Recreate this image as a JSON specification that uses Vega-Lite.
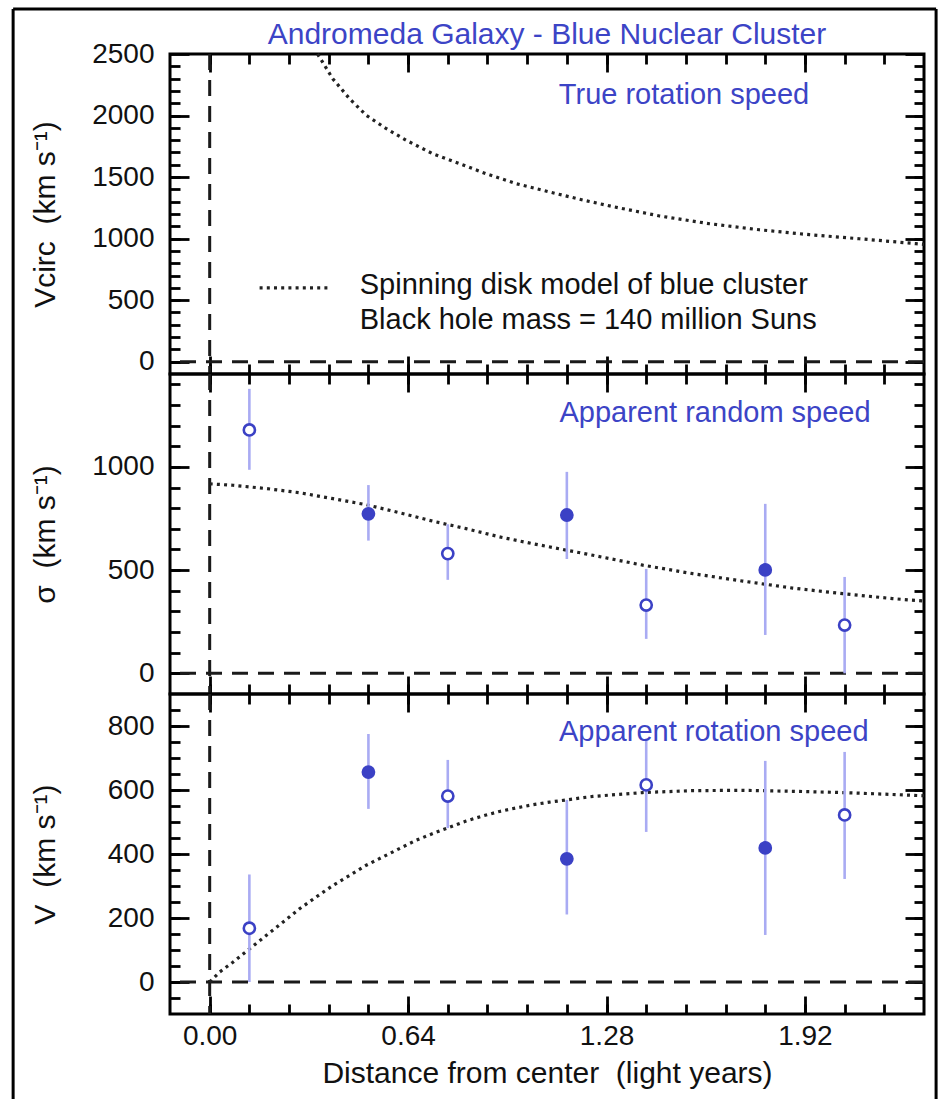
{
  "$schema": "https://vega.github.io/schema/vega-lite/v6.json",
  "autosize": {"type": "pad"},
  "padding": {"left": 10, "top": 5, "right": 6, "bottom": 0},
  "background": "white",
  "spacing": 0,
  "bounds": "flush",
  "config": {
    "view": {"stroke": "black", "strokeWidth": 3},
    "font": "Liberation Sans",
    "axis": {"grid": false, "domain": false, "tickColor": "black", "tickWidth": 2.8, "labelFont": "Liberation Sans", "titleFont": "Liberation Sans", "labelColor": "#111", "titleColor": "#111", "labelFontSize": 28, "titleFontSize": 30, "titleFontWeight": "normal", "labelFlush": false, "labelOverlap": false, "format": "d", "minExtent": 0, "maxExtent": 0}
  },
  "vconcat": [
    {
      "width": 754, "height": 320,
      "resolve": {"axis": {"x": "independent", "y": "independent"}},
      "layer": [
        {"data": {"values": [{}]},
         "mark": {"type": "rule", "strokeDash": [16, 10], "strokeWidth": 3, "color": "#1a1a1a"},
         "encoding": {"x": {"datum": 0, "type": "quantitative", "scale": {"domain": [-0.128, 2.304], "nice": false, "zero": false},
           "axis": {"orient": "top", "values": [0, 0.64, 1.28, 1.92], "tickSize": -18, "labels": false, "title": null}}}},
        {"data": {"values": [{}]},
         "mark": {"type": "rule", "strokeDash": [16, 10], "strokeWidth": 3, "color": "#1a1a1a"},
         "encoding": {"y": {"datum": 0, "type": "quantitative", "scale": {"domain": [-100, 2500], "nice": false, "zero": false},
           "axis": {"orient": "right", "values": [0, 500, 1000, 1500, 2000, 2500], "tickSize": -19, "labels": false, "title": null}}}},
        {"data": {"values": [
          {"d": 0.348, "v": 2500}, {"d": 0.397, "v": 2299}, {"d": 0.451, "v": 2137}, {"d": 0.505, "v": 2002},
          {"d": 0.570, "v": 1893}, {"d": 0.634, "v": 1799}, {"d": 0.719, "v": 1690}, {"d": 0.806, "v": 1609},
          {"d": 0.892, "v": 1527}, {"d": 0.989, "v": 1446}, {"d": 1.096, "v": 1379}, {"d": 1.203, "v": 1314},
          {"d": 1.306, "v": 1257}, {"d": 1.451, "v": 1184}, {"d": 1.612, "v": 1121}, {"d": 1.773, "v": 1072},
          {"d": 1.934, "v": 1032}, {"d": 2.095, "v": 999}, {"d": 2.278, "v": 959}, {"d": 2.304, "v": 953}]},
         "mark": {"type": "line", "strokeDash": [3, 4.2], "strokeWidth": 3.2, "color": "#222"},
         "encoding": {
           "x": {"field": "d", "type": "quantitative", "axis": {"orient": "bottom", "values": [0, 0.64, 1.28, 1.92], "tickSize": -18, "labels": false, "title": null}},
           "y": {"field": "v", "type": "quantitative", "axis": {"orient": "left", "values": [0, 500, 1000, 1500, 2000, 2500], "format": "d", "tickSize": -19, "labelPadding": 35, "minExtent": 80, "maxExtent": 80, "title": "Vcirc \u00a0(km s⁻¹)", "titlePadding": 30}}}},
        {"data": {"values": [{}]},
         "mark": {"type": "rule", "strokeDash": [3, 4.2], "strokeWidth": 3.2, "color": "#222"},
         "encoding": {
           "x": {"datum": 0.161, "type": "quantitative", "axis": {"orient": "bottom", "values": [0, 0.128, 0.256, 0.384, 0.512, 0.64, 0.768, 0.896, 1.024, 1.152, 1.28, 1.408, 1.536, 1.664, 1.792, 1.92, 2.048, 2.176], "tickSize": -10, "labels": false, "title": null}},
           "x2": {"datum": 0.387},
           "y": {"datum": 600, "type": "quantitative", "axis": {"orient": "left", "values": [0, 100, 200, 300, 400, 500, 600, 700, 800, 900, 1000, 1100, 1200, 1300, 1400, 1500, 1600, 1700, 1800, 1900, 2000, 2100, 2200, 2300, 2400], "tickSize": -10, "labels": false, "title": null}}}},
        {"data": {"values": [{}]},
         "mark": {"type": "text", "text": "True rotation speed", "color": "#3c44c6", "fontSize": 29, "font": "Liberation Sans", "align": "center", "baseline": "alphabetic"},
         "encoding": {
           "x": {"datum": 1.53, "type": "quantitative", "axis": {"orient": "top", "values": [0, 0.128, 0.256, 0.384, 0.512, 0.64, 0.768, 0.896, 1.024, 1.152, 1.28, 1.408, 1.536, 1.664, 1.792, 1.92, 2.048, 2.176], "tickSize": -10, "labels": false, "title": null}},
           "y": {"datum": 2092, "type": "quantitative", "axis": {"orient": "right", "values": [0, 100, 200, 300, 400, 500, 600, 700, 800, 900, 1000, 1100, 1200, 1300, 1400, 1500, 1600, 1700, 1800, 1900, 2000, 2100, 2200, 2300, 2400], "tickSize": -10, "labels": false, "title": null}}}},
        {"data": {"values": [{}]},
         "mark": {"type": "text", "text": "Andromeda Galaxy - Blue Nuclear Cluster", "color": "#3c44c6", "fontSize": 30, "font": "Liberation Sans", "align": "center", "baseline": "alphabetic"},
         "encoding": {
           "x": {"datum": 1.088, "type": "quantitative", "axis": null},
           "y": {"datum": 2581, "type": "quantitative", "axis": null}}},
        {"data": {"values": [{}]},
         "mark": {"type": "text", "text": ["Spinning disk model of blue cluster", "Black hole mass = 140 million Suns"], "lineHeight": 35, "color": "#111", "fontSize": 29, "font": "Liberation Sans", "align": "left", "baseline": "alphabetic"},
         "encoding": {
           "x": {"datum": 0.484, "type": "quantitative", "axis": null},
           "y": {"datum": 550, "type": "quantitative", "axis": null}}},
        {"data": {"values": [{}]},
         "mark": {"type": "rule", "strokeWidth": 3, "color": "black"},
         "encoding": {"x": {"datum": -0.634, "type": "quantitative", "axis": null}, "x2": {"datum": 2.343}, "y": {"datum": 2866, "type": "quantitative", "axis": null}}},
        {"data": {"values": [{}]},
         "mark": {"type": "rule", "strokeWidth": 3, "color": "black"},
         "encoding": {"x": {"datum": -0.634, "type": "quantitative", "axis": null}, "y": {"datum": 2866, "type": "quantitative", "axis": null}, "y2": {"datum": -100}}},
        {"data": {"values": [{}]},
         "mark": {"type": "rule", "strokeWidth": 3, "color": "black"},
         "encoding": {"x": {"datum": 2.343, "type": "quantitative", "axis": null}, "y": {"datum": 2866, "type": "quantitative", "axis": null}, "y2": {"datum": -100}}}
      ]
    },
    {
      "width": 754, "height": 320,
      "resolve": {"axis": {"x": "independent", "y": "independent"}},
      "layer": [
        {"data": {"values": [{}]},
         "mark": {"type": "rule", "strokeDash": [16, 10], "strokeWidth": 3, "color": "#1a1a1a"},
         "encoding": {"x": {"datum": 0, "type": "quantitative", "scale": {"domain": [-0.128, 2.304], "nice": false, "zero": false},
           "axis": {"orient": "top", "values": [0, 0.64, 1.28, 1.92], "tickSize": -18, "labels": false, "title": null}}}},
        {"data": {"values": [{}]},
         "mark": {"type": "rule", "strokeDash": [16, 10], "strokeWidth": 3, "color": "#1a1a1a"},
         "encoding": {"y": {"datum": 0, "type": "quantitative", "scale": {"domain": [-100, 1450], "nice": false, "zero": false},
           "axis": {"orient": "right", "values": [0, 500, 1000], "tickSize": -19, "labels": false, "title": null}}}},
        {"data": {"values": [
          {"d": 0, "v": 918}, {"d": 0.075, "v": 911}, {"d": 0.183, "v": 895}, {"d": 0.290, "v": 875},
          {"d": 0.398, "v": 846}, {"d": 0.505, "v": 817}, {"d": 0.612, "v": 778}, {"d": 0.720, "v": 737},
          {"d": 0.827, "v": 701}, {"d": 0.935, "v": 661}, {"d": 1.042, "v": 628}, {"d": 1.150, "v": 597},
          {"d": 1.236, "v": 572}, {"d": 1.397, "v": 524}, {"d": 1.558, "v": 483}, {"d": 1.719, "v": 447},
          {"d": 1.880, "v": 413}, {"d": 2.042, "v": 386}, {"d": 2.203, "v": 362}, {"d": 2.304, "v": 350}]},
         "mark": {"type": "line", "strokeDash": [3, 4.2], "strokeWidth": 3.2, "color": "#222"},
         "encoding": {
           "x": {"field": "d", "type": "quantitative", "axis": {"orient": "bottom", "values": [0, 0.64, 1.28, 1.92], "tickSize": -18, "labels": false, "title": null}},
           "y": {"field": "v", "type": "quantitative", "axis": {"orient": "left", "values": [0, 500, 1000], "format": "d", "tickSize": -19, "labelPadding": 35, "minExtent": 80, "maxExtent": 80, "title": "σ \u00a0(km s⁻¹)", "titlePadding": 30}}}},
        {"data": {"name": "sigma", "values": [
          {"d": 0.128, "v": 1179, "lo": 986, "hi": 1378, "f": "open"},
          {"d": 0.512, "v": 773, "lo": 643, "hi": 912, "f": "filled"},
          {"d": 0.768, "v": 580, "lo": 453, "hi": 722, "f": "open"},
          {"d": 1.152, "v": 767, "lo": 554, "hi": 976, "f": "filled"},
          {"d": 1.408, "v": 331, "lo": 167, "hi": 506, "f": "open"},
          {"d": 1.792, "v": 501, "lo": 186, "hi": 821, "f": "filled"},
          {"d": 2.048, "v": 234, "lo": 0, "hi": 467, "f": "open"}]},
         "layer": [
           {"mark": {"type": "rule", "color": "#a9abf3", "strokeWidth": 2.6},
            "encoding": {
              "x": {"field": "d", "type": "quantitative", "axis": {"orient": "bottom", "values": [0, 0.128, 0.256, 0.384, 0.512, 0.64, 0.768, 0.896, 1.024, 1.152, 1.28, 1.408, 1.536, 1.664, 1.792, 1.92, 2.048, 2.176], "tickSize": -10, "labels": false, "title": null}},
              "y": {"field": "lo", "type": "quantitative", "axis": {"orient": "left", "values": [0, 100, 200, 300, 400, 500, 600, 700, 800, 900, 1000, 1100, 1200, 1300, 1400], "tickSize": -10, "labels": false, "title": null}},
              "y2": {"field": "hi"}}},
           {"mark": {"type": "point", "shape": "circle", "size": 125, "filled": true, "stroke": "#3b41c5", "strokeWidth": 2.6, "opacity": 1},
            "encoding": {
              "x": {"field": "d", "type": "quantitative", "axis": {"orient": "top", "values": [0, 0.128, 0.256, 0.384, 0.512, 0.64, 0.768, 0.896, 1.024, 1.152, 1.28, 1.408, 1.536, 1.664, 1.792, 1.92, 2.048, 2.176], "tickSize": -10, "labels": false, "title": null}},
              "y": {"field": "v", "type": "quantitative", "axis": {"orient": "right", "values": [0, 100, 200, 300, 400, 500, 600, 700, 800, 900, 1000, 1100, 1200, 1300, 1400], "tickSize": -10, "labels": false, "title": null}},
              "fill": {"field": "f", "type": "nominal", "scale": {"domain": ["open", "filled"], "range": ["white", "#3b41c5"]}, "legend": null}}}
         ]},
        {"data": {"values": [{}]},
         "mark": {"type": "text", "text": "Apparent random speed", "color": "#3c44c6", "fontSize": 29, "font": "Liberation Sans", "align": "center", "baseline": "alphabetic"},
         "encoding": {
           "x": {"datum": 1.63, "type": "quantitative", "axis": null},
           "y": {"datum": 1218, "type": "quantitative", "axis": null}}},
        {"data": {"values": [{}]},
         "mark": {"type": "rule", "strokeWidth": 3, "color": "black"},
         "encoding": {"x": {"datum": -0.634, "type": "quantitative", "axis": null}, "y": {"datum": 1450, "type": "quantitative", "axis": null}, "y2": {"datum": -100}}},
        {"data": {"values": [{}]},
         "mark": {"type": "rule", "strokeWidth": 3, "color": "black"},
         "encoding": {"x": {"datum": 2.343, "type": "quantitative", "axis": null}, "y": {"datum": 1450, "type": "quantitative", "axis": null}, "y2": {"datum": -100}}}
      ]
    },
    {
      "width": 754, "height": 320,
      "resolve": {"axis": {"x": "independent", "y": "independent"}},
      "layer": [
        {"data": {"values": [{}]},
         "mark": {"type": "rule", "strokeDash": [16, 10], "strokeWidth": 3, "color": "#1a1a1a"},
         "encoding": {"x": {"datum": 0, "type": "quantitative", "scale": {"domain": [-0.128, 2.304], "nice": false, "zero": false},
           "axis": {"orient": "top", "values": [0, 0.64, 1.28, 1.92], "tickSize": -18, "labels": false, "title": null}}}},
        {"data": {"values": [{}]},
         "mark": {"type": "rule", "strokeDash": [16, 10], "strokeWidth": 3, "color": "#1a1a1a"},
         "encoding": {"y": {"datum": 0, "type": "quantitative", "scale": {"domain": [-100, 900], "nice": false, "zero": false},
           "axis": {"orient": "right", "values": [0, 200, 400, 600, 800], "tickSize": -19, "labels": false, "title": null}}}},
        {"data": {"values": [
          {"d": 0, "v": 0}, {"d": 0.032, "v": 31}, {"d": 0.075, "v": 62}, {"d": 0.129, "v": 104},
          {"d": 0.183, "v": 146}, {"d": 0.236, "v": 187}, {"d": 0.290, "v": 229}, {"d": 0.344, "v": 266},
          {"d": 0.398, "v": 302}, {"d": 0.451, "v": 333}, {"d": 0.505, "v": 365}, {"d": 0.559, "v": 391},
          {"d": 0.612, "v": 417}, {"d": 0.666, "v": 443}, {"d": 0.720, "v": 464}, {"d": 0.774, "v": 484},
          {"d": 0.827, "v": 503}, {"d": 0.881, "v": 519}, {"d": 0.935, "v": 533}, {"d": 0.989, "v": 544},
          {"d": 1.042, "v": 554}, {"d": 1.096, "v": 562}, {"d": 1.150, "v": 569}, {"d": 1.236, "v": 580},
          {"d": 1.397, "v": 592}, {"d": 1.558, "v": 598}, {"d": 1.719, "v": 599}, {"d": 1.880, "v": 596},
          {"d": 2.042, "v": 592}, {"d": 2.203, "v": 586}, {"d": 2.304, "v": 582}]},
         "mark": {"type": "line", "strokeDash": [3, 4.2], "strokeWidth": 3.2, "color": "#222"},
         "encoding": {
           "x": {"field": "d", "type": "quantitative", "axis": {"orient": "bottom", "values": [0, 0.64, 1.28, 1.92], "format": ".2f", "tickSize": -18, "labelPadding": 26, "minExtent": 40, "maxExtent": 40, "title": "Distance from center \u00a0(light years)", "titlePadding": 4}},
           "y": {"field": "v", "type": "quantitative", "axis": {"orient": "left", "values": [0, 200, 400, 600, 800], "format": "d", "tickSize": -19, "labelPadding": 35, "minExtent": 80, "maxExtent": 80, "title": "V \u00a0(km s⁻¹)", "titlePadding": 30}}}},
        {"data": {"name": "vrot", "values": [
          {"d": 0.128, "v": 168, "lo": 0, "hi": 336, "f": "open"},
          {"d": 0.512, "v": 656, "lo": 541, "hi": 775, "f": "filled"},
          {"d": 0.768, "v": 581, "lo": 481, "hi": 694, "f": "open"},
          {"d": 1.152, "v": 385, "lo": 211, "hi": 569, "f": "filled"},
          {"d": 1.408, "v": 616, "lo": 469, "hi": 760, "f": "open"},
          {"d": 1.792, "v": 419, "lo": 147, "hi": 691, "f": "filled"},
          {"d": 2.048, "v": 522, "lo": 322, "hi": 719, "f": "open"}]},
         "layer": [
           {"mark": {"type": "rule", "color": "#a9abf3", "strokeWidth": 2.6},
            "encoding": {
              "x": {"field": "d", "type": "quantitative", "axis": {"orient": "bottom", "values": [0, 0.128, 0.256, 0.384, 0.512, 0.64, 0.768, 0.896, 1.024, 1.152, 1.28, 1.408, 1.536, 1.664, 1.792, 1.92, 2.048, 2.176], "tickSize": -10, "labels": false, "title": null}},
              "y": {"field": "lo", "type": "quantitative", "axis": {"orient": "left", "values": [-50, 0, 50, 100, 150, 200, 250, 300, 350, 400, 450, 500, 550, 600, 650, 700, 750, 800, 850], "tickSize": -10, "labels": false, "title": null}},
              "y2": {"field": "hi"}}},
           {"mark": {"type": "point", "shape": "circle", "size": 125, "filled": true, "stroke": "#3b41c5", "strokeWidth": 2.6, "opacity": 1},
            "encoding": {
              "x": {"field": "d", "type": "quantitative", "axis": {"orient": "top", "values": [0, 0.128, 0.256, 0.384, 0.512, 0.64, 0.768, 0.896, 1.024, 1.152, 1.28, 1.408, 1.536, 1.664, 1.792, 1.92, 2.048, 2.176], "tickSize": -10, "labels": false, "title": null}},
              "y": {"field": "v", "type": "quantitative", "axis": {"orient": "right", "values": [-50, 0, 50, 100, 150, 200, 250, 300, 350, 400, 450, 500, 550, 600, 650, 700, 750, 800, 850], "tickSize": -10, "labels": false, "title": null}},
              "fill": {"field": "f", "type": "nominal", "scale": {"domain": ["open", "filled"], "range": ["white", "#3b41c5"]}, "legend": null}}}
         ]},
        {"data": {"values": [{}]},
         "mark": {"type": "text", "text": "Apparent rotation speed", "color": "#3c44c6", "fontSize": 29, "font": "Liberation Sans", "align": "center", "baseline": "alphabetic"},
         "encoding": {
           "x": {"datum": 1.626, "type": "quantitative", "axis": null},
           "y": {"datum": 752, "type": "quantitative", "axis": null}}},
        {"data": {"values": [{}]},
         "mark": {"type": "rule", "strokeWidth": 3, "color": "black"},
         "encoding": {"x": {"datum": -0.634, "type": "quantitative", "axis": null}, "y": {"datum": 900, "type": "quantitative", "axis": null}, "y2": {"datum": -380}}},
        {"data": {"values": [{}]},
         "mark": {"type": "rule", "strokeWidth": 3, "color": "black"},
         "encoding": {"x": {"datum": 2.343, "type": "quantitative", "axis": null}, "y": {"datum": 900, "type": "quantitative", "axis": null}, "y2": {"datum": -380}}}
      ]
    }
  ]
}
